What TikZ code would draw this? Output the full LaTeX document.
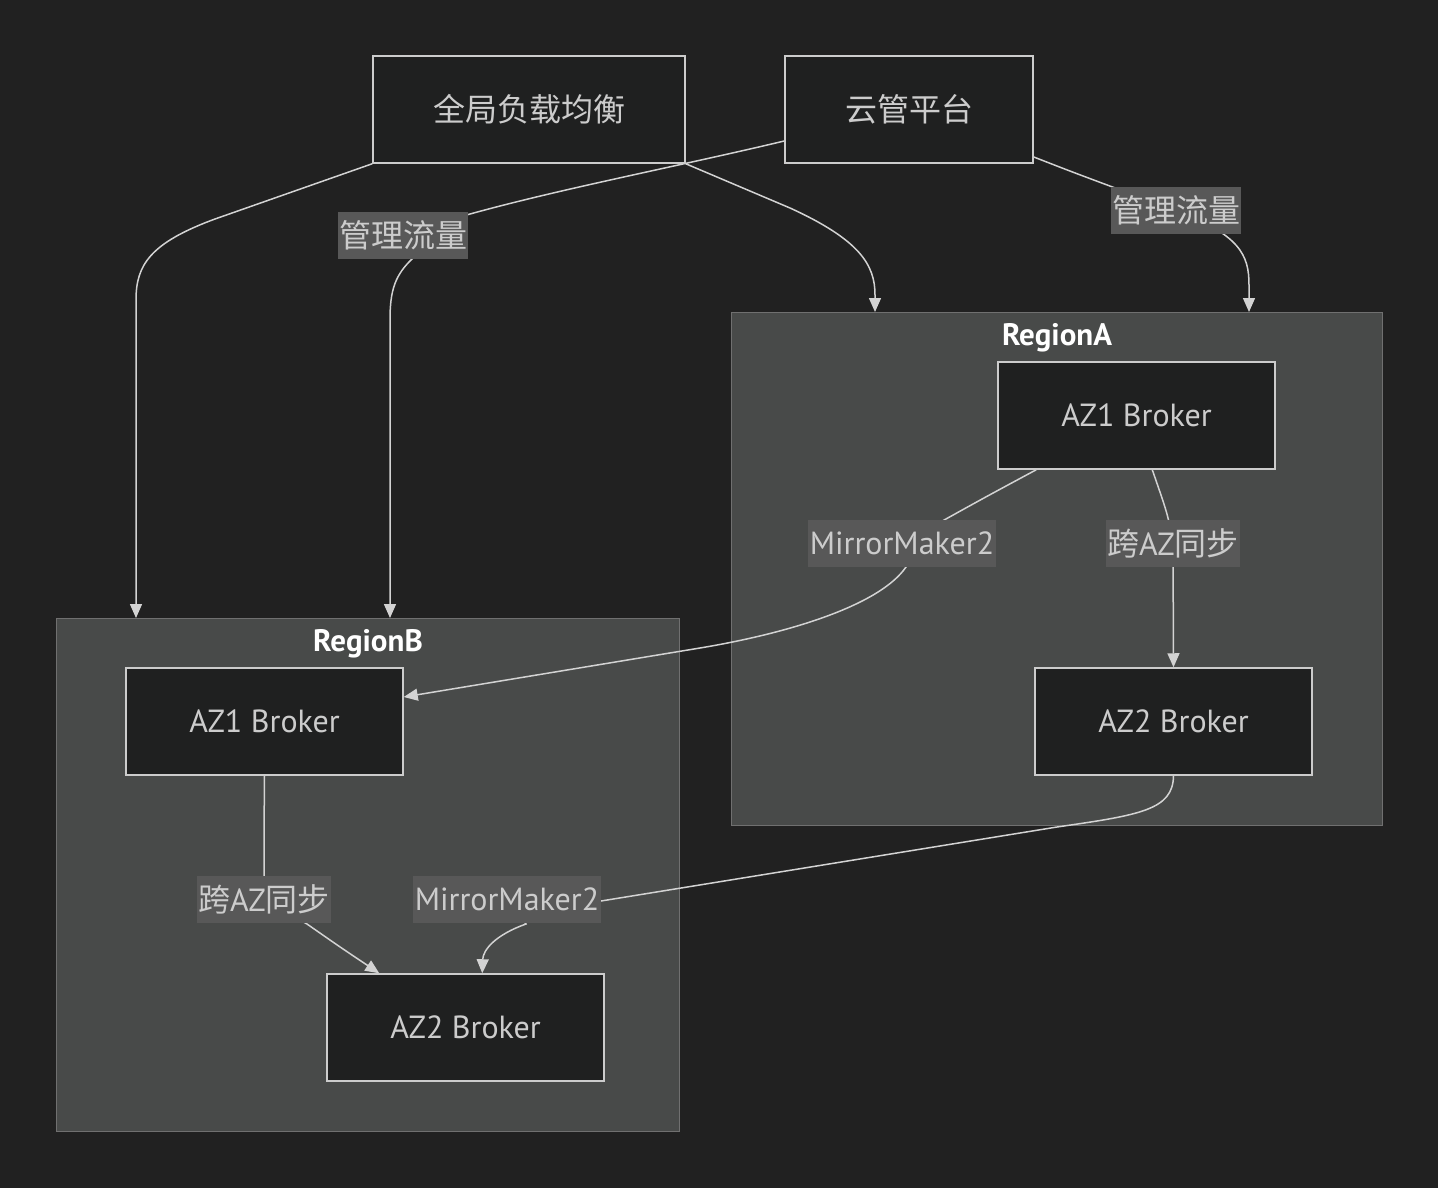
\documentclass[tikz,border=0pt]{standalone}
\usepackage{fontspec}
\setmainfont{PT Sans}
\newfontfamily\cjk{Noto Sans CJK SC}
\usetikzlibrary{arrows.meta,calc}
\definecolor{bgc}{HTML}{212121}
\definecolor{nodefill}{HTML}{1F2020}
\definecolor{nodeline}{HTML}{CCCCCC}
\definecolor{txt}{HTML}{CCCCCC}
\definecolor{clfill}{HTML}{484A49}
\definecolor{clline}{HTML}{707070}
\definecolor{lblfill}{HTML}{585858}
\definecolor{edgec}{HTML}{D3D3D3}
\pgfdeclarelayer{bg}
\pgfdeclarelayer{edges}
\pgfsetlayers{bg,edges,main}
\newcommand\zh[1]{{\cjk\fontsize{32}{36}\selectfont #1}}
\tikzset{
  box/.style={draw=nodeline, fill=nodefill, line width=1.5pt, minimum width=277pt, minimum height=107pt, text=txt, inner sep=0pt, font=\fontsize{32}{36}\selectfont},
  cluster/.style={draw=clline, fill=clfill, line width=1.2pt, anchor=north west, inner sep=0pt},
  ctitle/.style={text=white, font=\fontsize{31}{36}\selectfont\bfseries, inner sep=0pt},
  lbl/.style={fill=lblfill, text=txt, inner xsep=1pt, inner ysep=0pt, minimum height=47pt, font=\fontsize{32}{36}\selectfont},
  edge/.style={draw=edgec, line width=1.5pt},
  arr/.style={edge, -{Triangle[length=14pt,width=12pt]}}
}
\begin{document}
\begin{tikzpicture}[x=1pt,y=-1pt]
\useasboundingbox (0,0) rectangle (1438,1188);

% background and clusters
\begin{pgfonlayer}{bg}
\fill[bgc] (0,0) rectangle (1438,1188);
\node[cluster, minimum width=651pt, minimum height=513pt] (regionA) at (731,312) {};
\node[cluster, minimum width=623pt, minimum height=513pt] (regionB) at (56,618) {};
\end{pgfonlayer}
\node[ctitle] (tA) at (1057,338) {RegionA};
\node[ctitle] (tB) at (368,644) {RegionB};

% nodes
\node[box, minimum width=312pt] (glb) at (529,109.5) {\zh{全局负载均衡}};
\node[box, minimum width=248pt] (cloud) at (909,109.5) {\zh{云管平台}};
\node[box] (aA1) at (1136.5,415.5) {AZ1 Broker};
\node[box] (aA2) at (1173.5,721.5) {AZ2 Broker};
\node[box] (bA1) at (264.5,721.5) {AZ1 Broker};
\node[box] (bA2) at (465.5,1027.5) {AZ2 Broker};

% edge labels
\node[lbl, minimum width=128pt] (lblL) at (403,235) {\zh{管理流量}};
\node[lbl, minimum width=128pt] (lblR) at (1176,210.5) {\zh{管理流量}};
\node[lbl, minimum width=188pt] (lblMA) at (902,543.5) {MirrorMaker2};
\node[lbl, minimum width=132pt] (lblSA) at (1173,543.5) {\zh{跨}AZ\zh{同步}};
\node[lbl, minimum width=132pt] (lblSB) at (264,899.5) {\zh{跨}AZ\zh{同步}};
\node[lbl, minimum width=188pt] (lblMB) at (507,899.5) {MirrorMaker2};

% edges
\begin{pgfonlayer}{edges}
\draw[arr] (glb.south west) -- (215,219) .. controls (150,243) and (136,265) .. (136,300) -- ($(regionB.north west)+(80,0)$);
\draw[arr] (glb.south east) -- (790,208) .. controls (860,240) and (875,265) .. (875,295) -- ($(regionA.north west)+(144,0)$);
\draw[arr] ($(cloud.west)+(0,31.5)$) .. controls (650,173) and (500,200) .. (lblL.center) -- (413,258) .. controls (395,275) and (390,290) .. (390,320) -- ($(regionB.north west)+(334,0)$);
\draw[arr] ($(cloud.east)+(0,47.5)$) .. controls (1080,175) .. (lblR.center) .. controls (1240,235) and (1249,255) .. (1249,285) -- ($(regionA.north west)+(518,0)$);
\draw[arr] ($(aA1.south west)+(39,0)$) .. controls (980,500) .. (lblMA.center) -- (906,567) .. controls (880,605) and (790,633) .. (700,648) -- ($(bA1.east)+(0,-24.5)$);
\draw[arr] ($(aA1.south west)+(155,0)$) .. controls (1168,515) .. (lblSA.center) -- (aA2.north);
\draw[arr] (bA1.south) -- (264,835) .. controls (264,860) .. (lblSB.center) -- (307,924) .. controls (340,947) .. ($(bA2.north west)+(53,0)$);
\draw[arr] (aA2.south) .. controls (1173,810) and (1140,815) .. (1057,827) -- (601,901) -- (lblMB.center) -- (526,924) .. controls (495,935) and (483,950) .. ($(bA2.north west)+(156,0)$);
\end{pgfonlayer}
\end{tikzpicture}
\end{document}
